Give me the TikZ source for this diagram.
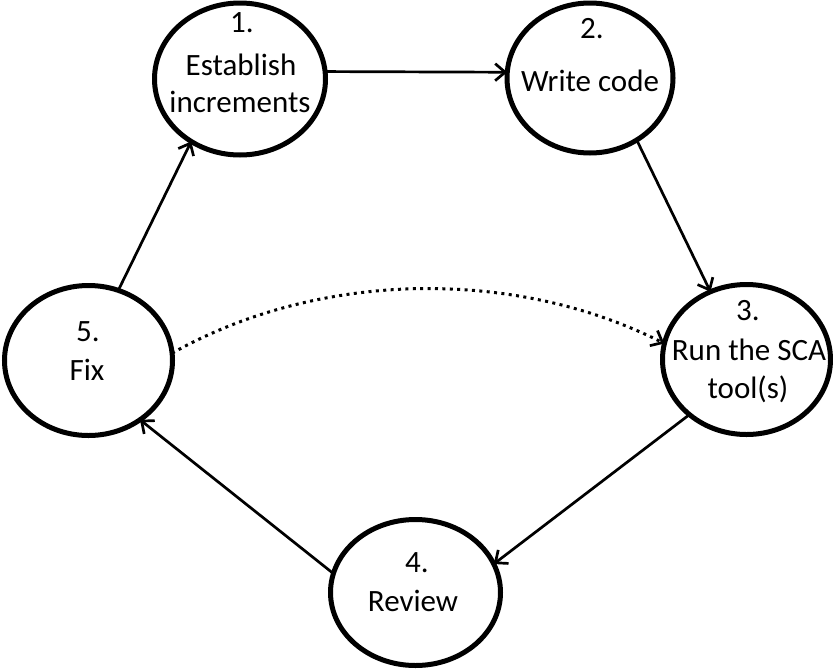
\documentclass[tikz,border=0pt]{standalone}
\usepackage{fontspec}
\setmainfont{Carlito}
\usetikzlibrary{shapes.geometric,arrows.meta}
\begin{document}
\begin{tikzpicture}[x=1pt,y=-1pt,
  stage/.style={draw=black,line width=5pt,ellipse,inner sep=0pt,outer sep=0pt},
  lbl/.style={anchor=base,inner sep=0pt,font=\fontsize{31}{37}\selectfont},
  conn/.style={line width=2.7pt,-{Straight Barb[length=10pt,width=17pt]}},
  dotconn/.style={line width=3pt,dash pattern=on 3pt off 4.4pt,-{Straight Barb[length=10pt,width=17pt,line width=2.7pt]}}]
\useasboundingbox (0,0) rectangle (833,670);
\node[stage,minimum width=171pt,minimum height=152pt] (c1) at (240,79) {};
\node[stage,minimum width=166pt,minimum height=150pt] (c2) at (590,78) {};
\node[stage,minimum width=168pt,minimum height=150pt] (c3) at (746.5,359.5) {};
\node[stage,minimum width=170pt,minimum height=146pt] (c4) at (415.5,592.5) {};
\node[stage,minimum width=168pt,minimum height=150pt] (c5) at (88.5,360.5) {};
% texts
\node[lbl] (t1a) at (242,32) {1.};
\node[lbl] (t1b) at (241,75) {Establish};
\node[lbl] (t1c) at (240,112) {increments};
\node[lbl] (t2a) at (592,38) {2.};
\node[lbl] (t2b) at (590,91) {Write code};
\node[lbl] (t3a) at (748,320) {3.};
\node[lbl] (t3b) at (749,360) {Run the SCA};
\node[lbl] (t3c) at (748,398) {tool(s)};
\node[lbl] (t4a) at (417,572) {4.};
\node[lbl] (t4b) at (413,611) {Review};
\node[lbl] (t5a) at (88,341) {5.};
\node[lbl] (t5b) at (87,380) {Fix};
% connectors
\draw[conn] (c1.5) -- (c2.176);
\draw[conn] (c2.-53) -- (c3.118);
\draw[conn] (c3.-136) -- (c4.20);
\draw[conn] (c4.167) -- (c5.-49);
\draw[conn] (c5.67) -- (c1.-128);
\draw[dotconn] (c5.5) .. controls (320,270) and (515,268) .. (c3.169);
\end{tikzpicture}
\end{document}
